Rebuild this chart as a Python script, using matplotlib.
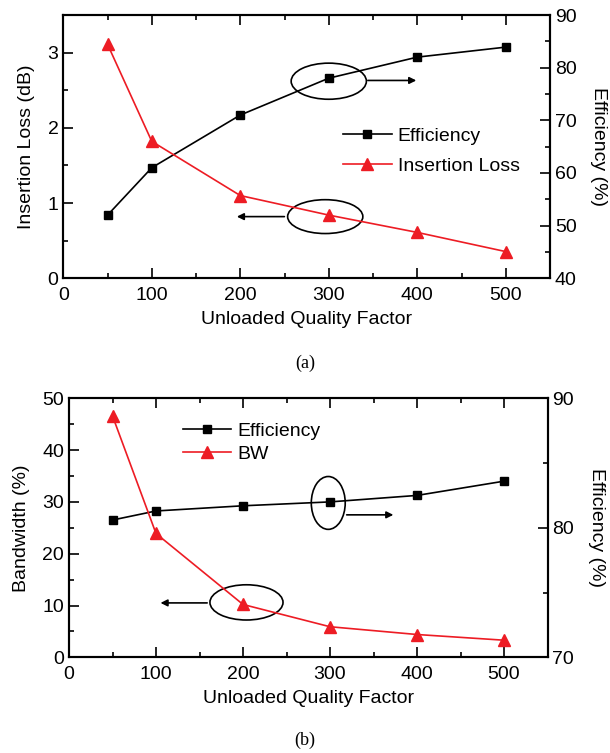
import matplotlib
matplotlib.use("Agg")
import matplotlib.pyplot as plt
from matplotlib.patches import Ellipse
from matplotlib.ticker import MultipleLocator

plt.rcParams['font.family'] = ['Liberation Sans', 'DejaVu Sans']
plt.rcParams['font.size'] = 14

q = [50, 100, 200, 300, 400, 500]
eff_a = [52.0, 61.0, 71.0, 78.0, 82.0, 83.9]
il_a = [3.11, 1.82, 1.10, 0.84, 0.61, 0.355]
eff_b = [80.6, 81.3, 81.7, 82.0, 82.5, 83.6]
bw_b = [46.6, 23.9, 10.2, 5.9, 4.4, 3.3]

RED = '#ed1c24'
W, H = 610, 753
FS = 14

fig = plt.figure(figsize=(W / 100, H / 100), dpi=100)


def style(ax, right=False):
    for s in ax.spines.values():
        s.set_linewidth(1.5)
    ax.tick_params(which='both', direction='in', width=1.2, labelsize=FS)
    ax.tick_params(which='major', length=7)
    ax.tick_params(which='minor', length=3.5)
    ax.tick_params(axis='x', pad=6)
    if right:
        ax.tick_params(which='both', left=False, right=True, labelleft=False, labelright=True, top=False, bottom=False)
    else:
        ax.tick_params(which='both', top=True, right=False)


def panel(rect, left_vals, right_vals, ylim, yt, ymin, rlim, rt, rmin, ylabel, lname):
    ax = fig.add_axes(rect)
    ax2 = ax.twinx()
    l2, = ax2.plot(q, right_vals, color='black', marker='s', markersize=6, lw=1.2, label='Efficiency')
    l1, = ax.plot(q, left_vals, color=RED, marker='^', markersize=8, lw=1.2, label=lname)
    ax.set_zorder(ax2.get_zorder() + 1)
    ax.patch.set_visible(False)
    ax.set_xlim(0, 550)
    ax.set_ylim(*ylim)
    ax.xaxis.set_major_locator(MultipleLocator(100))
    ax.xaxis.set_minor_locator(MultipleLocator(50))
    ax.yaxis.set_major_locator(MultipleLocator(yt))
    ax.yaxis.set_minor_locator(MultipleLocator(ymin))
    ax2.set_ylim(*rlim)
    ax2.yaxis.set_major_locator(MultipleLocator(rt))
    ax2.yaxis.set_minor_locator(MultipleLocator(rmin))
    style(ax)
    style(ax2, right=True)
    ax.set_xlabel('Unloaded Quality Factor', fontsize=FS, labelpad=5)
    ax.set_ylabel(ylabel, fontsize=FS, labelpad=9)
    ax2.set_ylabel('Efficiency (%)', fontsize=FS, rotation=270, labelpad=22)
    return ax, ax2, [l2, l1]


# (a)
ax, ax2, hs = panel([63.3 / W, 1 - 278.3 / H, 486.7 / W, 263.3 / H],
                    il_a, eff_a, (0, 3.5), 1, 0.5, (40, 90), 10, 5,
                    'Insertion Loss (dB)', 'Insertion Loss')
ax.legend(hs, [h.get_label() for h in hs], loc='center left', bbox_to_anchor=(0.575, 0.483),
          frameon=False, borderpad=0, borderaxespad=0, handlelength=2.5, handletextpad=0.3,
          labelspacing=0.6, fontsize=FS)
ax.add_patch(Ellipse((300, 2.62), 85, 0.48, fill=False, lw=1.2, color='black'))
ax.annotate('', xy=(402, 2.63), xytext=(341, 2.63),
            arrowprops=dict(arrowstyle='-|>', color='black', lw=1.2, mutation_scale=10))
ax.add_patch(Ellipse((296, 0.82), 85, 0.45, fill=False, lw=1.2, color='black'))
ax.annotate('', xy=(193, 0.82), xytext=(253, 0.82),
            arrowprops=dict(arrowstyle='-|>', color='black', lw=1.2, mutation_scale=10))
fig.text(305 / W, 1 - 363 / H, '(a)', ha='center', va='center',
         family=['Liberation Serif', 'DejaVu Serif'], fontsize=13)

# (b)
bx, bx2, hs = panel([69 / W, 1 - 657.3 / H, 478.5 / W, 259 / H],
                    bw_b, eff_b, (0, 50), 10, 5, (70, 90), 10, 5,
                    'Bandwidth (%)', 'BW')
bx.legend(hs, [h.get_label() for h in hs], loc='center left', bbox_to_anchor=(0.238, 0.829),
          frameon=False, borderpad=0, borderaxespad=0, handlelength=2.5, handletextpad=0.3,
          labelspacing=0.25, fontsize=FS)
bx.add_patch(Ellipse((298, 29.8), 39, 10.2, fill=False, lw=1.2, color='black'))
bx.annotate('', xy=(376, 27.5), xytext=(316, 27.5),
            arrowprops=dict(arrowstyle='-|>', color='black', lw=1.2, mutation_scale=10))
bx.add_patch(Ellipse((204, 10.6), 84, 6.8, fill=False, lw=1.2, color='black'))
bx.annotate('', xy=(102, 10.5), xytext=(162, 10.5),
            arrowprops=dict(arrowstyle='-|>', color='black', lw=1.2, mutation_scale=10))
fig.text(305 / W, 1 - 740 / H, '(b)', ha='center', va='center',
         family=['Liberation Serif', 'DejaVu Serif'], fontsize=13)

fig.savefig('out.png', dpi=100)
